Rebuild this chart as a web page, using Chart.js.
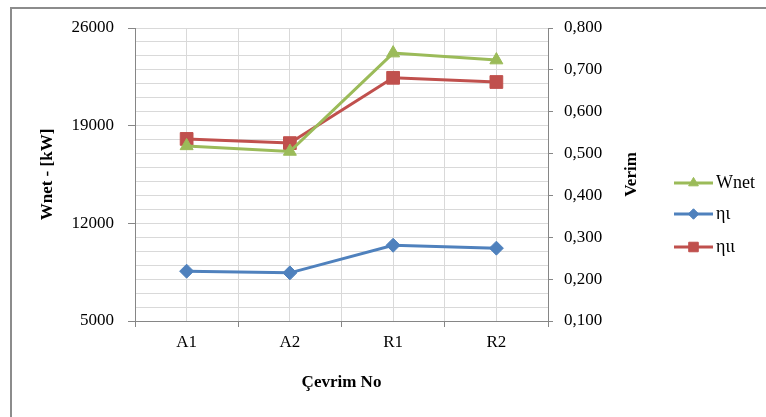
<!DOCTYPE html>
<html>
<head>
<meta charset="utf-8">
<script src="https://cdn.jsdelivr.net/npm/chart.js@4/dist/chart.umd.min.js"></script>
<style>
  body { margin: 0; background: #fff; }
  #frame { position: absolute; left: 10px; top: 7px; width: 800px; height: 500px;
           border-top: 2px solid #8c8c8c; border-left: 2px solid #8c8c8c; }
  #chart { position: absolute; left: 0; top: 0; }
</style>
</head>
<body>
<div id="frame"></div>
<canvas id="chart" width="766" height="417"></canvas>
<script>
// values
const categories = ["A1", "A2", "R1", "R2"];
const wnet = [17550, 17150, 24200, 23700];
const eta1 = [0.219, 0.215, 0.281, 0.274];
const eta2 = [0.535, 0.525, 0.681, 0.671];
const leftTicks = [5000, 12000, 19000, 26000];
const labels = ["Wnet", "ηι", "ηιι"];

const green = "#9bbb59";
const blue = "#4f81bd";
const red = "#c0504d";
const axisColor = "#868686";
const gridColor = "#d9d9d9";
const font = { family: "Liberation Serif", size: 17 };

function pts(arr) {
  return arr.map((v, i) => ({ x: i, y: v }));
}

// legend with line + marker, and right axis title read upward
const extras = {
  id: "extras",
  afterDraw(chart) {
    const ctx = chart.ctx;
    const y1 = chart.scales.y1;
    ctx.save();
    ctx.fillStyle = "#000";
    ctx.font = "bold 17px 'Liberation Serif'";
    ctx.translate(632, (chart.chartArea.top + chart.chartArea.bottom) / 2);
    ctx.rotate(-Math.PI / 2);
    ctx.textAlign = "center";
    ctx.textBaseline = "middle";
    ctx.fillText("Verim", 0, 0);
    ctx.restore();

    const x0 = y1.right + 24;
    const rows = [183, 214, 247];
    chart.data.datasets.forEach((ds, i) => {
      const y = rows[i];
      ctx.save();
      ctx.strokeStyle = ds.borderColor;
      ctx.lineWidth = 3;
      ctx.beginPath();
      ctx.moveTo(x0, y);
      ctx.lineTo(x0 + 39, y);
      ctx.stroke();
      ctx.fillStyle = ds.borderColor;
      ctx.lineWidth = 1;
      Chart.helpers.drawPoint(ctx, {
        pointStyle: ds.pointStyle, rotation: 0,
        radius: ds.pointRadius * 0.75, borderWidth: 1
      }, x0 + 19.5, y);
      ctx.fillStyle = "#000";
      ctx.font = "18px 'Liberation Serif'";
      ctx.textBaseline = "middle";
      ctx.textAlign = "left";
      ctx.fillText(ds.label, x0 + 42, y);
      ctx.restore();
    });
  }
};

new Chart(document.getElementById("chart"), {
  type: "line",
  data: {
    datasets: [
      {
        label: labels[0], data: pts(wnet), yAxisID: "y",
        borderColor: green, backgroundColor: green, borderWidth: 3,
        pointStyle: "triangle", pointRadius: 7.5, pointBorderWidth: 1
      },
      {
        label: labels[1], data: pts(eta1), yAxisID: "y1",
        borderColor: blue, backgroundColor: blue, borderWidth: 3,
        pointStyle: "rectRot", pointRadius: 7, pointBorderWidth: 1
      },
      {
        label: labels[2], data: pts(eta2), yAxisID: "y1",
        borderColor: red, backgroundColor: red, borderWidth: 3,
        pointStyle: "rect", pointRadius: 9, pointBorderWidth: 1
      }
    ]
  },
  options: {
    responsive: false,
    animation: false,
    layout: { padding: { left: 0, right: 116, top: 28, bottom: 0 } },
    plugins: { legend: { display: false }, tooltip: { enabled: false } },
    scales: {
      x: {
        type: "linear",
        min: -0.5,
        max: 3.5,
        afterFit: (s) => { s.height = 96; },
        afterBuildTicks: (s) => {
          const t = [];
          for (let v = -0.5; v <= 3.5; v += 0.5) t.push({ value: v });
          s.ticks = t;
        },
        ticks: {
          autoSkip: false, maxRotation: 0, padding: 5,
          color: "#000", font: font,
          callback: (v) => (Number.isInteger(v) ? categories[v] : "")
        },
        grid: {
          color: gridColor, tickLength: 6,
          tickColor: (c) => (c.tick && Number.isInteger(c.tick.value) ? "rgba(0,0,0,0)" : axisColor)
        },
        border: { color: axisColor },
        title: {
          display: true, text: "Çevrim No", color: "#000",
          font: { family: "Liberation Serif", size: 17, weight: "bold" },
          padding: { top: 0, bottom: 24 }
        }
      },
      y: {
        position: "left",
        min: 5000,
        max: 26000,
        afterFit: (s) => { s.width = 135; },
        afterBuildTicks: (s) => {
          const t = [];
          for (let v = 5000; v <= 26000; v += 1000) t.push({ value: v });
          s.ticks = t;
        },
        ticks: {
          autoSkip: false, padding: 14, color: "#000", font: font,
          callback: (v) => (leftTicks.includes(v) ? String(v) : "")
        },
        grid: {
          color: gridColor, tickLength: 7,
          tickColor: (c) => (c.tick && leftTicks.includes(c.tick.value) ? axisColor : "rgba(0,0,0,0)")
        },
        border: { color: axisColor },
        title: {
          display: true, text: "Wnet - [kW]", color: "#000",
          font: { family: "Liberation Serif", size: 17, weight: "bold" },
          padding: { top: 37, bottom: 0 }
        }
      },
      y1: {
        position: "right",
        min: 0.1,
        max: 0.8,
        afterFit: (s) => { s.width = 102; },
        ticks: {
          autoSkip: false, stepSize: 0.1, padding: 11, color: "#000", font: font,
          callback: (v) => v.toFixed(3).replace(".", ",")
        },
        grid: { drawOnChartArea: false, tickLength: 5, tickColor: axisColor },
        border: { color: axisColor }
      }
    }
  },
  plugins: [extras]
});
</script>
</body>
</html>
